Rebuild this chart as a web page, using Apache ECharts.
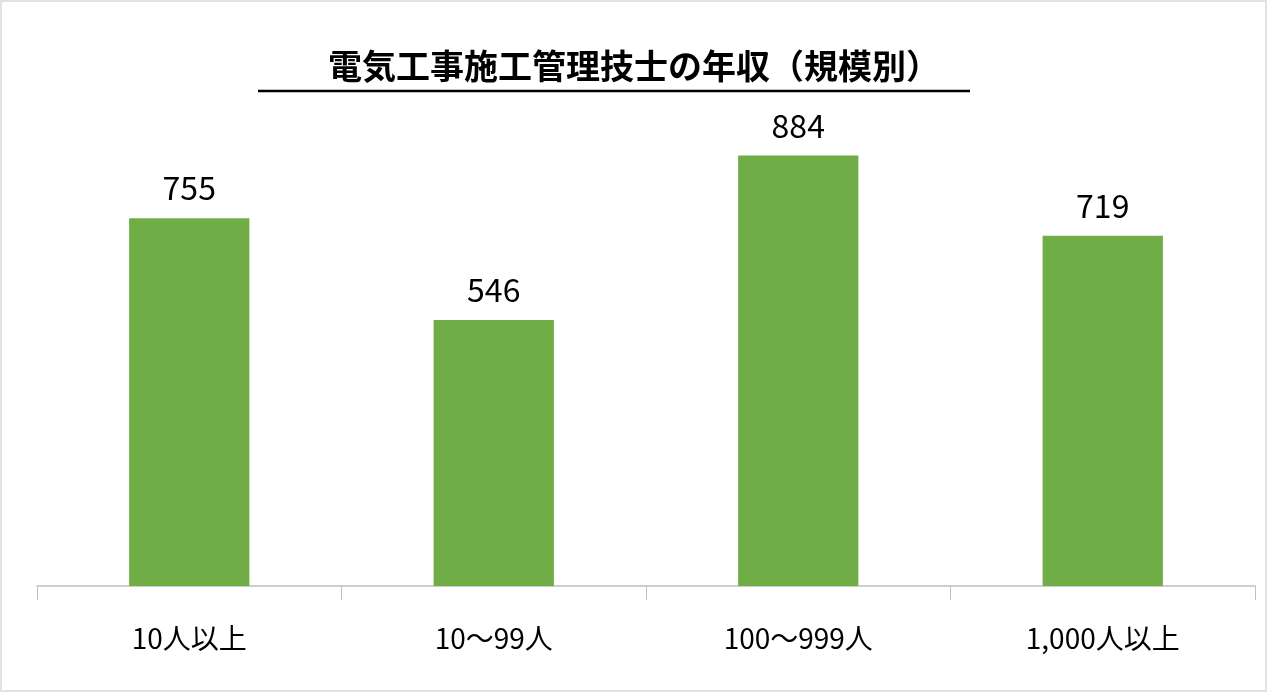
<!DOCTYPE html>
<html><head><meta charset="utf-8">
<script src="https://cdn.jsdelivr.net/npm/echarts@6/dist/echarts.min.js"></script>
<style>html,body{margin:0;padding:0;background:#fff}#c{width:1268px;height:693px}</style>
</head><body><div id="c"></div>
<script>
const categories = ['10人以上','10～99人','100～999人','1,000人以上'];
const values = [755, 546, 884, 719];
const chart = echarts.init(document.getElementById('c'));
chart.setOption({
  backgroundColor:'#fff',
  animation:false,
  title:{text:'電気工事施工管理技士の年収（規模別）',left:'center',top:44,
    textStyle:{fontFamily:'Noto Sans CJK JP',fontSize:34,fontWeight:'bold',color:'#000'}},
  graphic:[
    {type:'rect',shape:{x:1,y:1,width:1265,height:690},style:{fill:'none',stroke:'#d9d9d9',lineWidth:1.5}},
    {type:'line',shape:{x1:258,y1:91,x2:970,y2:91},style:{stroke:'#000',lineWidth:2.5}}
  ],
  grid:{left:37,right:13,top:99,bottom:107},
  xAxis:{type:'category',data:categories,
    axisLine:{lineStyle:{color:'#bfbfbf',width:1.5}},
    axisTick:{show:true,length:14,lineStyle:{color:'#bfbfbf'}},
    axisLabel:{fontFamily:'Noto Sans CJK JP',fontSize:28,color:'#000',margin:38}},
  yAxis:{type:'value',min:0,max:1000,show:false,splitLine:{show:false}},
  series:[{type:'bar',data:values,barWidth:'39.5%',itemStyle:{color:'#70ad47'},
    label:{show:true,position:'top',distance:14,fontFamily:'Noto Sans CJK JP',fontSize:32,color:'#000'}}]
});
</script></body></html>
